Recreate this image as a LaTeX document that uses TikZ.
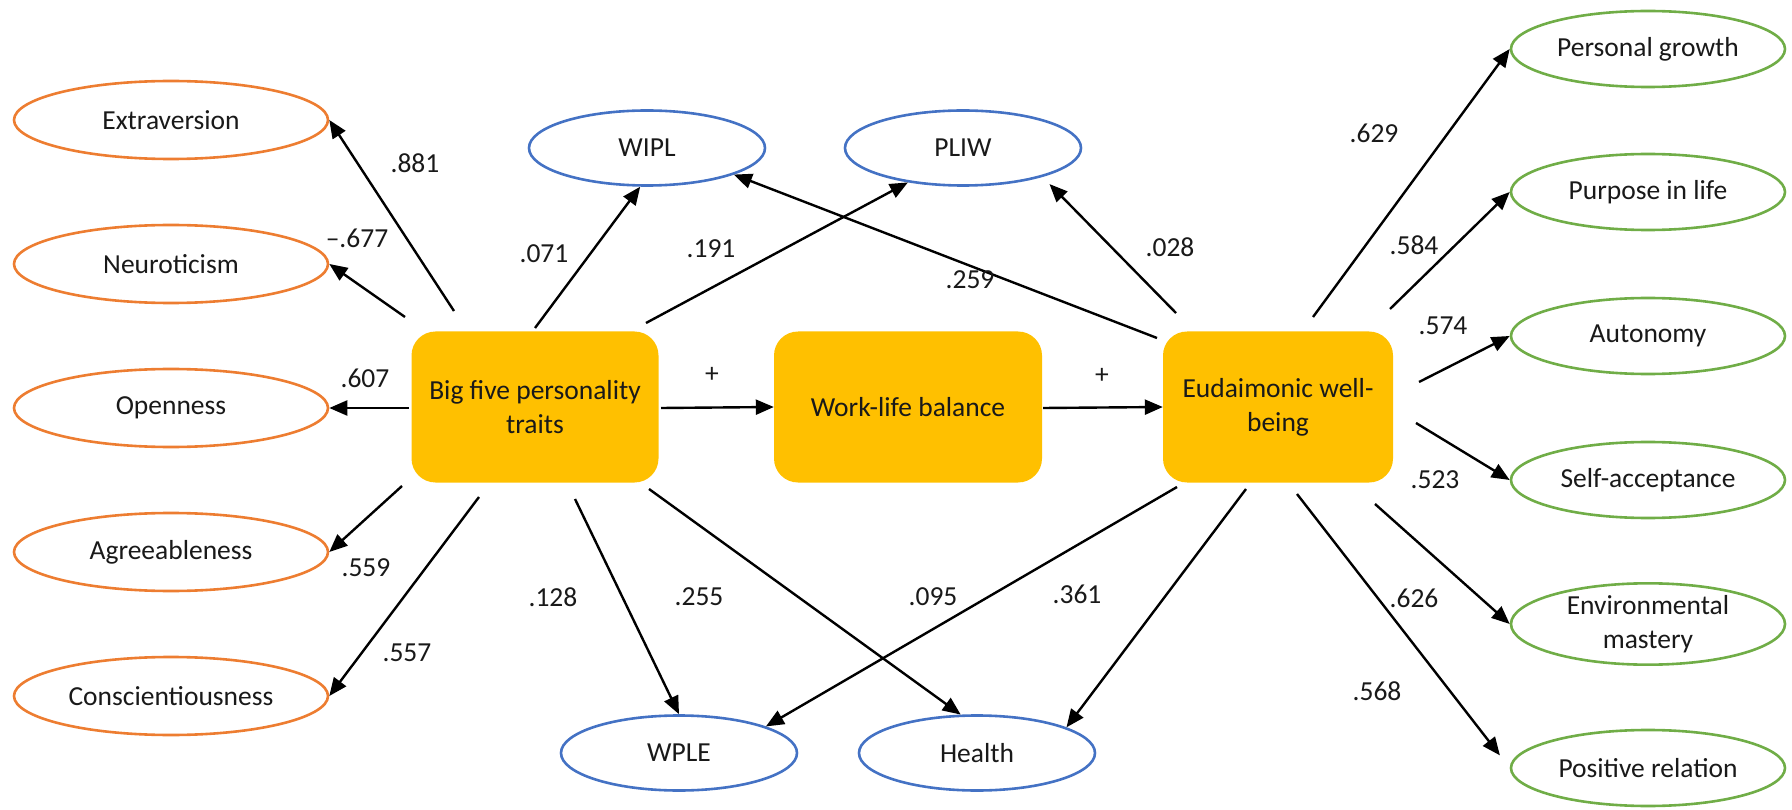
\documentclass[tikz,border=0pt]{standalone}
\usepackage{fontspec}
\setmainfont{Carlito}
\usetikzlibrary{shapes.geometric,arrows.meta}
\definecolor{orangeE}{HTML}{ED7D31}
\definecolor{blueE}{HTML}{4472C4}
\definecolor{greenE}{HTML}{70AD47}
\definecolor{boxY}{HTML}{FFC000}
\begin{document}
\begin{tikzpicture}[x=1pt,y=-1pt,
  every node/.style={font=\fontsize{27.5}{34}\selectfont, text=black!90},
  lat/.style={ellipse, draw, line width=2.6pt, inner sep=0pt, align=center},
  trait/.style={lat, draw=orangeE, minimum width=314pt, minimum height=78pt},
  wl/.style={lat, draw=blueE, minimum width=236pt, minimum height=75pt},
  pwb/.style={lat, draw=greenE, minimum width=274pt, minimum height=76pt},
  core/.style={rounded corners=24pt, fill=boxY, align=center, inner sep=0pt, minimum height=151pt},
  conn/.style={line width=2.4pt, -{Triangle[length=18pt,width=15pt]}},
  num/.style={inner sep=0pt}
]
\useasboundingbox (0,0) rectangle (1792,810);

% core constructs
\node[core, minimum width=247pt] (big) at (535,407) {Big five personality\\traits};
\node[core, minimum width=268pt] (wlb) at (908,407) {Work-life balance};
\node[core, minimum width=230pt] (eud) at (1278,407) {Eudaimonic well-\\being};

% personality traits
\node[trait] (ext) at (171,120) {Extraversion};
\node[trait] (neu) at (171,264) {Neuroticism};
\node[trait] (ope) at (171,408) {Openness};
\node[trait] (agr) at (171,552) {Agreeableness};
\node[trait] (con) at (171,696) {Conscientiousness};

% work-life balance dimensions
\node[wl] (wipl) at (647,148) {WIPL};
\node[wl] (pliw) at (963,148) {PLIW};
\node[wl] (wple) at (679,753) {WPLE};
\node[wl] (hea) at (977,753) {Health};

% eudaimonic well-being dimensions
\node[pwb] (pg) at (1648,49) {Personal growth};
\node[pwb] (pil) at (1648,192) {Purpose in life};
\node[pwb] (aut) at (1648,336) {Autonomy};
\node[pwb] (sac) at (1648,480) {Self-acceptance};
\node[pwb] (env) at (1648,624) {Environmental\\mastery};
\node[pwb] (prl) at (1648,768) {Positive relation};

% free start points
\coordinate (bE) at (454,311);
\coordinate (bN) at (405,317);
\coordinate (bO) at (409,408);
\coordinate (bA) at (402,486);
\coordinate (bC) at (479,497);
\coordinate (bWPLE) at (575,499);
\coordinate (bH) at (649,489);
\coordinate (bWIPL) at (535,328);
\coordinate (bPLIW) at (646,323);
\coordinate (bW) at (661,408);
\coordinate (wE) at (1043,408);
\coordinate (eWIPL) at (1157,338);
\coordinate (ePLIW) at (1176,313);
\coordinate (eWPLE) at (1177,487);
\coordinate (eH) at (1246,489);
\coordinate (ePG) at (1313,317);
\coordinate (ePL) at (1390,309);
\coordinate (eAu) at (1419,382);
\coordinate (eSA) at (1416,423);
\coordinate (eEM) at (1375,504);
\coordinate (ePR) at (1297,494);

% connectors from big five
\draw[conn] (bE) -- (ext.east);
\draw[conn] (bN) -- (neu.east);
\draw[conn] (bO) -- (ope.east);
\draw[conn] (bA) -- (agr.east);
\draw[conn] (bC) -- (con.east);
\draw[conn] (bWPLE) -- (wple.north);
\draw[conn] (bH) -- (hea.113);
\draw[conn] (bWIPL) -- (wipl.260);
\draw[conn] (bPLIW) -- (pliw.-148);
\draw[conn] (bW) -- (wlb.west);
\draw[conn] (wE) -- (eud.west);

% connectors from eudaimonic well-being
\draw[conn] (eWIPL) -- (wipl.-17);
\draw[conn, shorten >=10pt] (ePLIW) -- (pliw.-20);
\draw[conn] (eWPLE) -- (wple.17);
\draw[conn] (eH) -- (hea.16);
\draw[conn] (ePG) -- (pg.west);
\draw[conn] (ePL) -- (pil.west);
\draw[conn] (eAu) -- (aut.west);
\draw[conn] (eSA) -- (sac.west);
\draw[conn] (eEM) -- (env.west);
\draw[conn, shorten >=16pt] (ePR) -- (prl.west);

% coefficients
\node[num] (l1) at (415,163) {.881};
\node[num] (l2) at (357,238) {\textendash.677};
\node[num] (l3) at (365,378) {.607};
\node[num] (l4) at (366,568) {.559};
\node[num] (l5) at (407,653) {.557};
\node[num] (l6) at (553,597) {.128};
\node[num] (l7) at (699,597) {.255};
\node[num] (l8) at (544,254) {.071};
\node[num] (l9) at (711,249) {.191};
\node[num] (p1) at (712,375) {+};
\node[num] (p2) at (1102,376) {+};
\node[num] (l10) at (970,280) {.259};
\node[num] (l11) at (1170,247) {.028};
\node[num] (l12) at (933,597) {.095};
\node[num] (l13) at (1077,594) {.361};
\node[num] (l14) at (1374,133) {.629};
\node[num] (l15) at (1414,245) {.584};
\node[num] (l16) at (1443,326) {.574};
\node[num] (l17) at (1435,480) {.523};
\node[num] (l18) at (1414,598) {.626};
\node[num] (l19) at (1377,691) {.568};
\end{tikzpicture}
\end{document}
